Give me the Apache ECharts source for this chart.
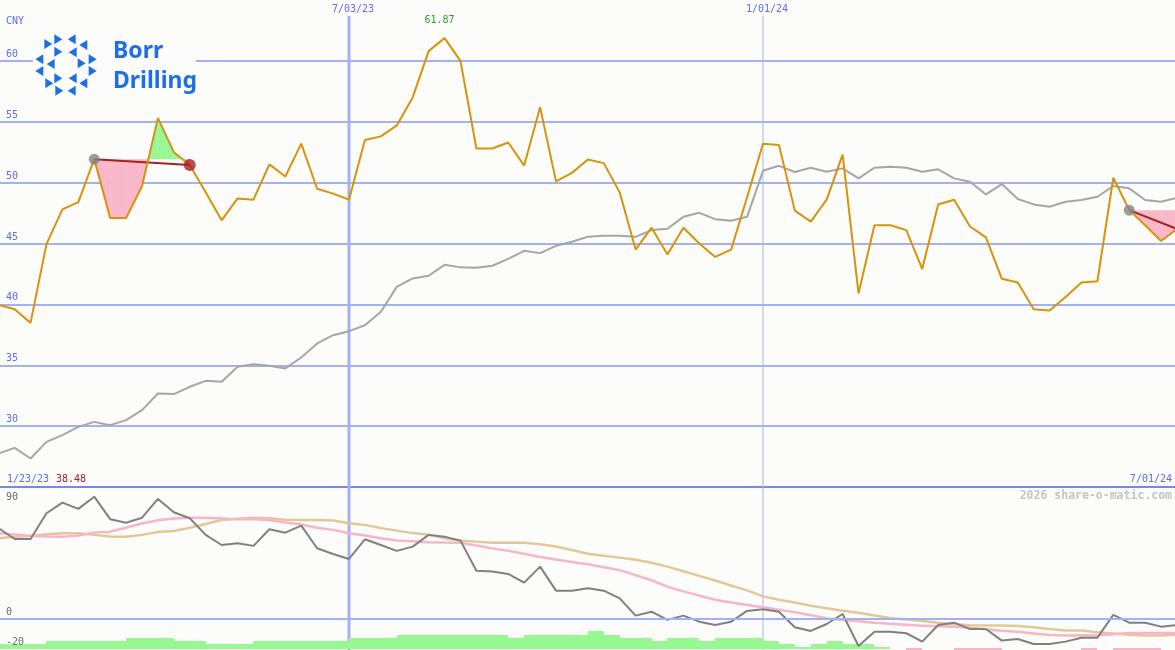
<!DOCTYPE html>
<html><head><meta charset="utf-8">
<script src="https://cdn.jsdelivr.net/npm/echarts@6/dist/echarts.min.js"></script>
<style>html,body{margin:0;padding:0;background:#fcfdfa}#c{width:1175px;height:650px}</style>
</head><body><div id="c"></div>
<script>
// ---------------- data ----------------
const weeks = ['2023-01-30','2023-02-06','2023-02-13','2023-02-20','2023-02-27','2023-03-06','2023-03-13','2023-03-20','2023-03-27','2023-04-03',
'2023-04-10','2023-04-17','2023-04-24','2023-05-01','2023-05-08','2023-05-15','2023-05-22','2023-05-29','2023-06-05','2023-06-12',
'2023-06-19','2023-06-26','2023-07-03','2023-07-10','2023-07-17','2023-07-24','2023-07-31','2023-08-07','2023-08-14','2023-08-21',
'2023-08-28','2023-09-04','2023-09-11','2023-09-18','2023-09-25','2023-10-02','2023-10-09','2023-10-16','2023-10-23','2023-10-30',
'2023-11-06','2023-11-13','2023-11-20','2023-11-27','2023-12-04','2023-12-11','2023-12-18','2023-12-25','2024-01-01','2024-01-08',
'2024-01-15','2024-01-22','2024-01-29','2024-02-05','2024-02-12','2024-02-19','2024-02-26','2024-03-04','2024-03-11','2024-03-18',
'2024-03-25','2024-04-01','2024-04-08','2024-04-15','2024-04-22','2024-04-29','2024-05-06','2024-05-13','2024-05-20','2024-05-27',
'2024-06-03','2024-06-10','2024-06-17','2024-06-24','2024-07-01'];
const price = [39.95,39.6,38.48,44.95,47.8,48.4,51.93,47.1,47.1,49.7,
55.3,52.5,51.44,49.2,46.9,48.7,48.6,51.5,50.5,53.2,
49.5,49.1,48.6,53.5,53.8,54.7,57.0,60.8,61.87,60.0,
52.8,52.8,53.3,51.4,56.2,50.1,50.8,51.9,51.6,49.2,
44.5,46.3,44.1,46.3,45.0,43.9,44.5,48.8,53.2,53.1,
47.7,46.8,48.6,52.3,40.9,46.5,46.5,46.1,42.9,48.2,
48.6,46.4,45.5,42.1,41.8,39.6,39.5,40.6,41.8,41.9,
50.4,47.74,46.5,45.2,46.2];
const priceAvg = [27.75,28.21,27.34,28.71,29.26,29.94,30.35,30.08,30.49,31.31,
32.68,32.63,33.23,33.72,33.64,34.87,35.09,34.95,34.74,35.64,
36.79,37.47,37.80,38.29,39.39,41.44,42.13,42.35,43.25,43.04,
43.00,43.17,43.74,44.40,44.21,44.81,45.14,45.55,45.63,45.63,
45.55,46.10,46.21,47.19,47.52,47.0,46.87,47.19,50.97,51.38,
50.87,51.22,50.89,51.17,50.35,51.22,51.30,51.22,50.89,51.09,
50.35,50.07,49.03,49.88,48.65,48.21,48.02,48.43,48.57,48.84,
49.72,49.53,48.57,48.43,48.76];
const osc = [61.9,54.6,54.6,72.1,79.4,75.1,83.4,68.1,65.7,69.1,
81.9,72.8,68.7,57.4,50.5,51.7,49.9,61.2,58.9,63.7,
48.3,44.4,41.0,54.4,50.5,46.5,49.4,57.4,56.2,53.5,
33.0,32.4,30.8,24.9,35.8,19.4,19.4,21.0,19.4,14.2,
2.4,5.1,-0.5,2.4,-1.7,-4.0,-1.7,5.6,6.7,5.1,
-5.5,-8.0,-3.3,3.5,-18.3,-8.5,-8.5,-9.6,-15.3,-4.0,
-2.4,-6.7,-6.7,-14.6,-13.5,-16.9,-16.9,-15.3,-12.6,-12.6,
2.9,-2.4,-2.4,-5.1,-4.0];
const oscFast = [58.5,57.6,56.8,56.3,56.2,57.0,59.0,59.6,62.3,65.2,
67.4,68.5,69.1,69.1,68.6,68.1,68.1,67.6,65.8,64.5,
62.3,60.8,58.5,57.0,55.1,53.5,53.0,52.4,52.2,52.1,
50.2,48.2,46.5,44.5,42.4,40.6,39.0,37.4,35.3,33.4,
30.0,26.5,22.1,18.9,16.0,13.2,11.3,9.7,8.1,6.4,
4.8,2.6,0.7,-0.5,-1.5,-2.4,-3.1,-3.8,-4.5,-4.8,
-5.2,-5.8,-6.9,-7.9,-8.6,-9.7,-10.8,-11.1,-10.9,-11.1,
-10.3,-9.5,-9.4,-9.4,-9.4];
const oscSlow = [55.1,56.1,56.7,57.9,58.5,58.5,57.4,56.3,56.2,57.4,
59.4,60.1,62.2,64.8,67.5,68.3,69.1,68.8,67.7,67.6,
67.6,67.2,65.3,64.2,62.0,60.3,58.6,57.5,55.0,53.5,
52.8,52.1,52.1,52.1,51.0,49.5,47.1,44.6,43.2,41.9,
40.5,38.4,35.8,32.6,29.5,26.3,22.9,19.6,15.5,13.2,
11.3,9.2,7.4,5.8,4.3,2.5,0.8,-0.3,-1.3,-2.4,
-3.4,-4.1,-4.4,-4.4,-4.6,-5.5,-6.7,-7.8,-7.8,-8.9,
-9.8,-10.7,-11.2,-11.2,-10.5];
const hist = [1.5,1.5,1.5,2.5,2.5,2.5,2.5,2.5,3.5,3.5,
3.5,2.5,2.5,1.5,1.5,1.5,2.5,2.5,2.5,2.5,
2.5,2.5,3.5,3.5,3.5,4.5,4.5,4.5,4.5,4.5,
4.5,4.5,3.5,4.5,4.5,4.5,4.5,5.8,4.5,3.5,
3.5,2.5,3.5,3.5,2.5,3.5,3.5,3.5,2.5,1.5,
0.5,1.5,2.5,1.5,1.5,0.5,0,-1,0,0,
-1,-1,-1,0,0,0,0,0,-1,0,
-1,-1,-1,0,0];
const priceTicks = [30,35,40,45,50,55,60];
const oscTicks = [90,0,-20];
const dateTicks = ['2023-07-03','2024-01-01'];
const dateTickLabels = ['7/03/23','1/01/24'];
const signalStart = [6,71];
const signalEnd = [12,74];
const currency = 'CNY';
const rangeStartLabel = '1/23/23';
const lowLabel = '38.48';
const rangeEndLabel = '7/01/24';
const credit = '2026 share-o-matic.com';
const logoLines = ['Borr','Drilling'];

// ---------------- helpers / styles ----------------
function ts(s){const p=s.split('-');return new Date(+p[0],+p[1]-1,+p[2]).getTime();}
const T = weeks.map(ts);
const X_MIN = new Date(2023,0,30,13,40).getTime();
const X_MAX = new Date(2024,5,30,2,52).getTime();
const DAY = 864e5;
const MONO = '"DejaVu Sans Mono", monospace';
const C = {blue:'#5b6cf0', grid:'#a3b1f1', divider:'#7a86ee', orange:'#d8920c', avg:'#a6a6a6',
  osc:'#808080', pink:'#f8b4c8', tan:'#e2c898', green:'#96f890', fillPink:'#f9b8c9', fillGreen:'#98f898',
  red:'#a52020', gray:'#858585', label:'#6a6a6a'};

const chart = echarts.init(document.getElementById('c'), null, {renderer:'canvas'});

function renderSignal(params, api){
  const i = params.dataIndex, s = signalStart[i], e = signalEnd[i];
  const p0 = api.coord([T[s], price[s]]);
  const base = p0[1];
  const kids = [];
  const poly = (pts, col) => kids.push({type:'polygon', shape:{points:pts}, style:{fill:col}});
  for (let k = s; k < e; k++){
    const a = api.coord([T[k], price[k]]), b = api.coord([T[k+1], price[k+1]]);
    const da = a[1]-base, db = b[1]-base;
    if (da*db >= 0){
      poly([[a[0],base],a,b,[b[0],base]], (da+db) > 0 ? C.fillPink : C.fillGreen);
    } else {
      const t = da/(da-db), xc = a[0] + t*(b[0]-a[0]);
      poly([[a[0],base],a,[xc,base]], da > 0 ? C.fillPink : C.fillGreen);
      poly([[xc,base],b,[b[0],base]], db > 0 ? C.fillPink : C.fillGreen);
    }
  }
  const p1 = api.coord([T[e], price[e]]);
  kids.push({type:'line', shape:{x1:p0[0],y1:p0[1],x2:p1[0],y2:p1[1]}, style:{stroke:C.red, lineWidth:2}});
  return {type:'group', children:kids};
}

// weekly histogram bar: spans from its week to the next one
function renderHist(params, api){
  const k = params.dataIndex, v = hist[k];
  if (!v) return null;
  const a = api.coord([T[k], 0]);
  const b = api.coord([T[k] + 7*DAY, v]);
  const x0 = Math.round(a[0]), x1 = Math.round(b[0]);
  const y0 = Math.floor(Math.min(a[1], b[1])), y1 = Math.ceil(Math.max(a[1], b[1]));
  return {type:'rect', shape:{x:x0, y:y0, width:x1-x0, height:y1-y0},
    style:{fill: v < 0 ? C.pink : C.green}};
}

const option = {
  animation:false,
  backgroundColor:'#fcfdfa',
  grid:[
    {left:0, right:0, top:0, height:487},
    {left:0, right:0, top:487, height:163}
  ],
  xAxis:[
    {type:'time', gridIndex:0, min:X_MIN, max:X_MAX,
     axisLine:{show:true, onZero:false, lineStyle:{color:C.divider, width:2}},
     axisTick:{show:false}, axisLabel:{show:false}, splitLine:{show:false}},
    {type:'time', gridIndex:1, min:X_MIN, max:X_MAX,
     axisLine:{show:false}, axisTick:{show:false}, axisLabel:{show:false}, splitLine:{show:false}}
  ],
  yAxis:[
    {type:'value', gridIndex:0, min:25, max:65, interval:5,
     axisLine:{show:false}, axisTick:{show:false},
     splitLine:{show:true, showMinLine:false, showMaxLine:false, lineStyle:{color:C.grid, width:2}},
     axisLabel:{inside:true, margin:6, color:C.blue, fontFamily:MONO, fontSize:10,
       verticalAlign:'bottom', lineHeight:13, showMinLabel:false, showMaxLabel:false,
       formatter: v => priceTicks.indexOf(v) >= 0 ? String(v) : ''}},
    {type:'value', gridIndex:1, min:-21, max:90,
     axisLine:{show:false}, axisTick:{show:false}, axisLabel:{show:false}, splitLine:{show:false}},
    {type:'value', gridIndex:1, min:-0.5, max:-0.5+163/3,
     axisLine:{show:false}, axisTick:{show:false}, axisLabel:{show:false}, splitLine:{show:false}}
  ],
  series:[
    {type:'custom', xAxisIndex:0, yAxisIndex:0, z:2, silent:true,
     renderItem:renderSignal,
     data: signalStart.map((s,i) => [T[s], price[s], i])},
    {type:'line', xAxisIndex:0, yAxisIndex:0, z:3, symbol:'none', silent:true,
     data: T.map((t,k) => [t, priceAvg[k]]),
     lineStyle:{color:C.avg, width:2}},
    {type:'line', xAxisIndex:0, yAxisIndex:0, z:4, symbol:'none', silent:true,
     data: T.map((t,k) => [t, price[k]]),
     lineStyle:{color:C.orange, width:2},
     markPoint:{symbol:'circle', symbolSize:0, silent:true,
       data:[{type:'max'}],
       label:{show:true, position:'top', distance:13, offset:[-5,0], color:'#28a028',
         fontFamily:MONO, fontSize:10, formatter: p => p.value.toFixed(2)}}},
    {type:'scatter', xAxisIndex:0, yAxisIndex:0, z:5, silent:true, symbolSize:11,
     itemStyle:{color:C.gray}, data: signalStart.map(s => [T[s], price[s]])},
    {type:'scatter', xAxisIndex:0, yAxisIndex:0, z:5, silent:true, symbolSize:12,
     itemStyle:{color:C.red}, data: signalEnd.map(s => [T[s], price[s]])},
    {type:'custom', xAxisIndex:1, yAxisIndex:2, z:3, silent:true,
     renderItem:renderHist,
     data: hist.map((v,k) => [T[k], v])},
    {type:'line', xAxisIndex:1, yAxisIndex:1, z:2, symbol:'none', silent:true,
     data: T.map((t,k) => [t, oscSlow[k]]),
     lineStyle:{color:C.tan, width:2.5},
     markLine:{silent:true, symbol:'none', label:{show:false},
       lineStyle:{color:C.grid, width:2, type:'solid'}, data:[{yAxis:0}]}},
    {type:'line', xAxisIndex:1, yAxisIndex:1, z:2, symbol:'none', silent:true,
     data: T.map((t,k) => [t, oscFast[k]]),
     lineStyle:{color:C.pink, width:2.5}},
    {type:'line', xAxisIndex:1, yAxisIndex:1, z:3, symbol:'none', silent:true,
     data: T.map((t,k) => [t, osc[k]]),
     lineStyle:{color:C.osc, width:2}}
  ]
};
chart.setOption(option);

// ---------------- overlay graphics (positions from the chart's scales) ----------------
const g = [];
const font10 = '10px ' + MONO;
dateTicks.forEach((d,i) => {
  const x = Math.round(chart.convertToPixel({xAxisIndex:0}, ts(d)));
  g.push({type:'line', z:1, silent:true, shape:{x1:x, y1:16, x2:x, y2:650},
    style:{stroke: i === 0 ? C.grid : '#aab4e8', lineWidth: i === 0 ? 3 : 1}});
  g.push({type:'text', z:10, silent:true, x:x+4, y:9,
    style:{text:dateTickLabels[i], fill:C.blue, font:font10, align:'center', verticalAlign:'middle'}});
});
oscTicks.forEach(v => {
  const y = chart.convertToPixel({yAxisIndex:1}, v);
  const yc = v === 90 ? y + 10 : y - 6.5;
  g.push({type:'text', z:10, silent:true, x:6, y:yc,
    style:{text:String(v), fill:C.label, font:font10, align:'left', verticalAlign:'middle'}});
});
g.push({type:'text', z:10, silent:true, x:6, y:21,
  style:{text:currency, fill:C.blue, font:font10, align:'left', verticalAlign:'middle'}});
g.push({type:'text', z:10, silent:true, x:7, y:479,
  style:{text:rangeStartLabel, fill:C.blue, font:font10, align:'left', verticalAlign:'middle'}});
g.push({type:'text', z:10, silent:true, x:56, y:479,
  style:{text:lowLabel, fill:C.red, font:font10, align:'left', verticalAlign:'middle'}});
g.push({type:'text', z:10, silent:true, x:1172, y:479,
  style:{text:rangeEndLabel, fill:C.blue, font:font10, align:'right', verticalAlign:'middle'}});
g.push({type:'text', z:10, silent:true, x:1172, y:496,
  style:{text:credit, fill:'#c4c4c4', font:'bold 11.5px ' + MONO, align:'right', verticalAlign:'middle'}});

// logo
const LOGO = '#1d6fe6';
g.push({type:'rect', z:6, silent:true, shape:{x:33, y:30, width:163, height:68}, style:{fill:'#fcfdfa'}});
const tri = [[58.3,39.3,1],[71.7,39.3,-1],[48.3,44,1],[83.3,45,-1],[58.3,51.7,1],[72.7,52.3,-1],
  [39.3,59.3,-1],[92.7,59.3,1],[50.7,64,-1],[81.7,63.3,1],[39.3,71,-1],[92.7,71,1],
  [58.3,78.3,1],[72.7,78.3,-1],[49.3,83.3,1],[83.3,83.3,-1],[59.3,90.7,1],[71.7,90.7,-1]];
tri.forEach(([cx,cy,d]) => {
  g.push({type:'polygon', z:7, silent:true,
    shape:{points:[[cx-4*d,cy-5],[cx+4*d,cy],[cx-4*d,cy+5]]}, style:{fill:LOGO}});
});
g.push({type:'text', z:7, silent:true, x:113, y:51,
  style:{text:logoLines[0], fill:LOGO, font:'bold 23px "Noto Sans", sans-serif', align:'left', verticalAlign:'middle'}});
g.push({type:'text', z:7, silent:true, x:113, y:81,
  style:{text:logoLines[1], fill:LOGO, font:'bold 23px "Noto Sans", sans-serif', align:'left', verticalAlign:'middle'}});

chart.setOption({graphic:g});
</script>
</body></html>
